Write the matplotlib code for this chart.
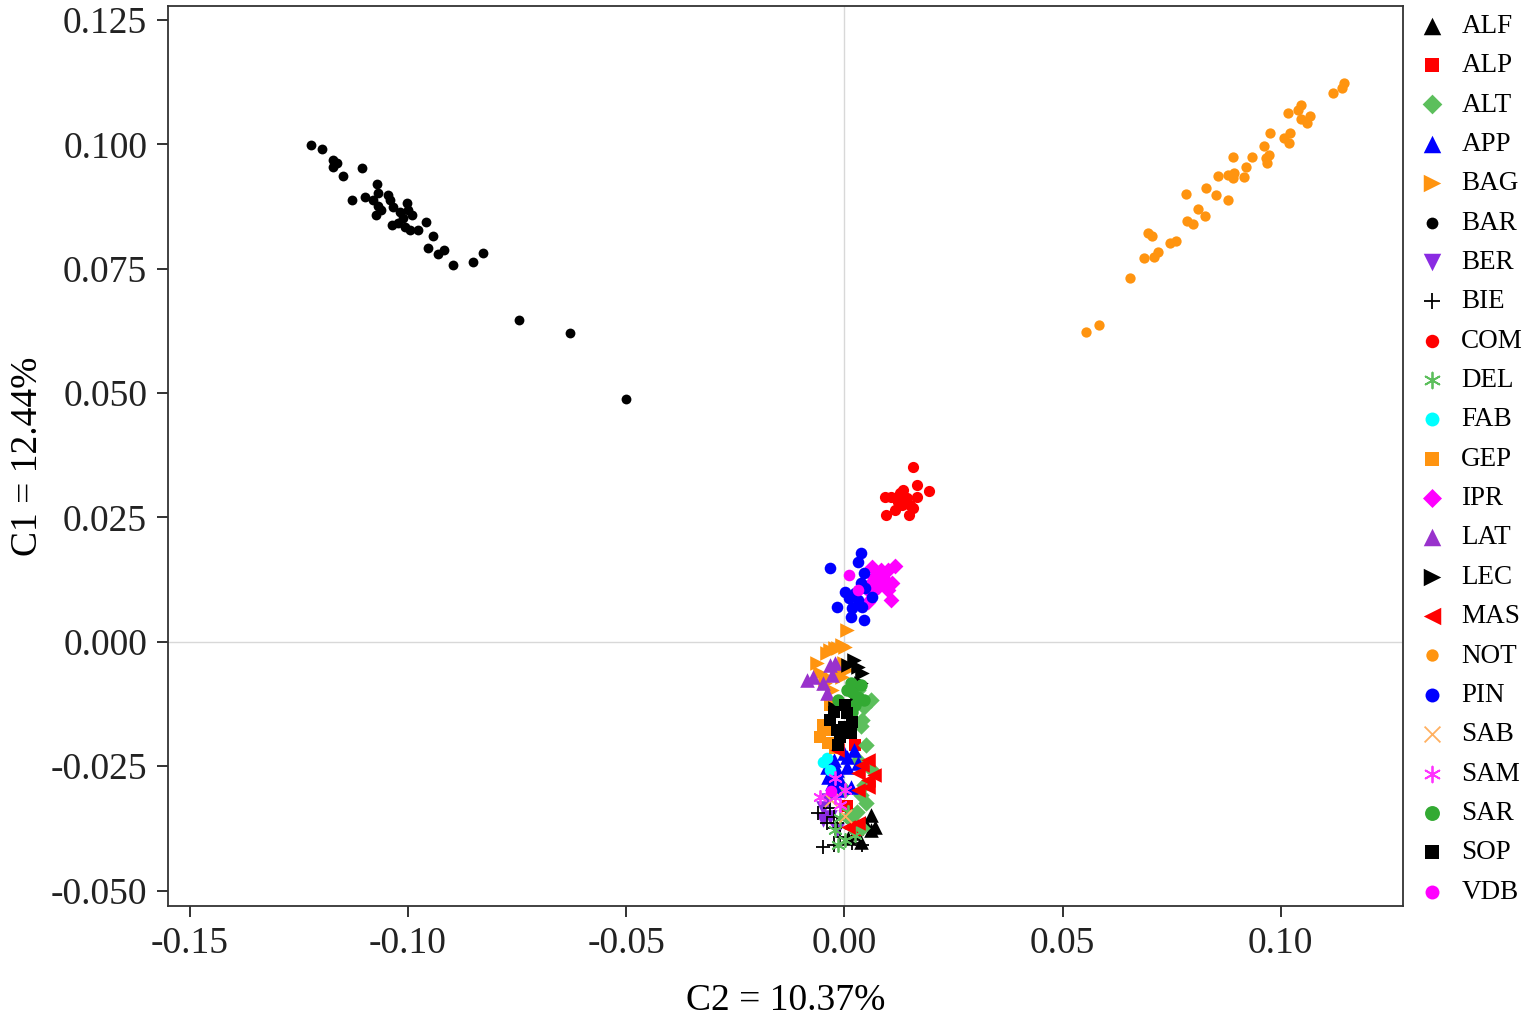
import matplotlib
matplotlib.use("Agg")
import matplotlib.pyplot as plt

plt.rcParams["font.family"] = ["Liberation Serif", "DejaVu Serif"]
plt.rcParams["axes.unicode_minus"] = False

# ---- population coordinates (C2, C1) ----
alf_x = [0.0060, 0.0071, 0.0048, 0.0060, 0.0025, 0.0037, 0.0009]
alf_y = [-0.0348, -0.0372, -0.0364, -0.0378, -0.0384, -0.0402, -0.0394]

alp_x = [0.0025, 0.0014, 0.0030, 0.0005]
alp_y = [-0.0207, -0.0348, -0.0378, -0.0330]

alt_x = [0.0060, 0.0044, 0.0041, 0.0032, 0.0050, 0.0032, 0.0046, 0.0037,
         0.0050, 0.0028, 0.0014, 0.0041, 0.0002, 0.0064, 0.0037]
alt_y = [-0.0117, -0.0131, -0.0157, -0.0096, -0.0207, -0.0237, -0.0287, -0.0307,
         -0.0324, -0.0342, -0.0358, -0.0374, -0.0297, -0.0258, -0.0170]

app_x = [0.0021, -0.0002, -0.0025, -0.0039, -0.0016, 0.0007, 0.0030, -0.0037,
         -0.0009, -0.0016, 0.0014, 0.0007, -0.0028]
app_y = [-0.0217, -0.0223, -0.0237, -0.0251, -0.0257, -0.0251, -0.0243, -0.0271,
         -0.0277, -0.0297, -0.0291, -0.0231, -0.0283]

bag_x = [0.0007, 0.0002, -0.0014, -0.0032, -0.0005, -0.0021, -0.0039, -0.0062,
         -0.0055, -0.0039, -0.0044, -0.0016, -0.0002, -0.0005, 0.0007, -0.0028]
bag_y = [0.0024, -0.0010, -0.0012, -0.0016, -0.0006, -0.0012, -0.0022, -0.0042,
         -0.0062, -0.0070, -0.0082, -0.0060, -0.0042, -0.0070, -0.0056, -0.0096]

bar_x = [-0.1222, -0.1197, -0.1172, -0.1163, -0.1172, -0.1149, -0.1106, -0.1128,
         -0.1099, -0.1071, -0.1069, -0.1080, -0.1069, -0.1073, -0.1062, -0.1046,
         -0.1041, -0.1034, -0.1018, -0.1002, -0.1000, -0.0991, -0.1011, -0.1037,
         -0.1023, -0.1007, -0.0995, -0.0977, -0.0959, -0.0943, -0.0954, -0.0931,
         -0.0917, -0.0897, -0.0851, -0.0828, -0.0745, -0.0628, -0.0500]
bar_y = [0.0999, 0.0991, 0.0969, 0.0963, 0.0955, 0.0936, 0.0953, 0.0888,
         0.0894, 0.0920, 0.0902, 0.0888, 0.0876, 0.0858, 0.0868, 0.0898,
         0.0888, 0.0874, 0.0864, 0.0882, 0.0868, 0.0858, 0.0852, 0.0838,
         0.0842, 0.0834, 0.0828, 0.0828, 0.0844, 0.0816, 0.0792, 0.0780,
         0.0788, 0.0758, 0.0764, 0.0782, 0.0647, 0.0621, 0.0488]

ber_x = [-0.0048, -0.0032, -0.0016, -0.0050, -0.0037]
ber_y = [-0.0334, -0.0352, -0.0378, -0.0358, -0.0318]

bie_x = [-0.0060, -0.0032, -0.0025, -0.0039, -0.0021, -0.0048, -0.0025, -0.0009,
         0.0018, 0.0041, -0.0016]
bie_y = [-0.0344, -0.0334, -0.0352, -0.0364, -0.0374, -0.0412, -0.0408, -0.0392,
         -0.0404, -0.0408, -0.0364]

com_x = [0.0158, 0.0167, 0.0193, 0.0092, 0.0106, 0.0128, 0.0135, 0.0144, 0.0122,
         0.0133, 0.0151, 0.0158, 0.0147, 0.0096, 0.0117, 0.0167, 0.0124]
com_y = [0.0352, 0.0316, 0.0303, 0.0291, 0.0291, 0.0299, 0.0305, 0.0289, 0.0281,
         0.0275, 0.0275, 0.0269, 0.0255, 0.0255, 0.0265, 0.0291, 0.0289]

del_x = [-0.0021, 0.0002, 0.0014, -0.0009, 0.0025, -0.0014, 0.0009]
del_y = [-0.0378, -0.0398, -0.0368, -0.0354, -0.0388, -0.0408, -0.0342]

fab_x = [-0.0050, -0.0041, -0.0032]
fab_y = [-0.0241, -0.0233, -0.0257]

gep_x = [-0.0050, -0.0055, -0.0037, -0.0032, -0.0041, -0.0021]
gep_y = [-0.0167, -0.0191, -0.0203, -0.0127, -0.0177, -0.0213]

ipr_x = [0.0064, 0.0083, 0.0099, 0.0117, 0.0067, 0.0094, 0.0060, 0.0078,
         0.0101, 0.0060, 0.0106, 0.0055, 0.0071, 0.0110]
ipr_y = [0.0151, 0.0145, 0.0145, 0.0153, 0.0131, 0.0125, 0.0119, 0.0111,
         0.0105, 0.0098, 0.0084, 0.0080, 0.0121, 0.0119]

lat_x = [-0.0085, -0.0073, -0.0032, -0.0021, -0.0048, -0.0028, -0.0039]
lat_y = [-0.0076, -0.0070, -0.0046, -0.0042, -0.0082, -0.0066, -0.0102]

lec_x = [0.0021, 0.0032, 0.0041, 0.0037, 0.0021, 0.0009, 0.0028, -0.0021]
lec_y = [-0.0036, -0.0050, -0.0062, -0.0082, -0.0092, -0.0046, -0.0107, -0.0133]

mas_x = [0.0053, 0.0067, 0.0055, 0.0030, -0.0016, 0.0032, 0.0053, 0.0032,
         0.0009, 0.0041]
mas_y = [-0.0237, -0.0267, -0.0291, -0.0263, -0.0217, -0.0297, -0.0277, -0.0364,
         -0.0372, -0.0247]

not_x = [0.0553, 0.0583, 0.0654, 0.0686, 0.0709, 0.0718, 0.0695, 0.0704,
         0.0745, 0.0759, 0.0784, 0.0798, 0.0810, 0.0826, 0.0782, 0.0828,
         0.0851, 0.0878, 0.0856, 0.0878, 0.0890, 0.0892, 0.0915, 0.0920,
         0.0890, 0.0933, 0.0961, 0.0966, 0.0972, 0.0968, 0.0975, 0.1007,
         0.1018, 0.1021, 0.1016, 0.1039, 0.1046, 0.1046, 0.1060, 0.1067,
         0.1119, 0.1140, 0.1144]
not_y = [0.0623, 0.0637, 0.0732, 0.0772, 0.0774, 0.0784, 0.0822, 0.0816,
         0.0802, 0.0806, 0.0846, 0.0840, 0.0870, 0.0856, 0.0900, 0.0912,
         0.0898, 0.0888, 0.0936, 0.0938, 0.0932, 0.0943, 0.0934, 0.0955,
         0.0975, 0.0975, 0.0997, 0.0973, 0.0979, 0.0963, 0.1023, 0.1013,
         0.1003, 0.1023, 0.1063, 0.1069, 0.1079, 0.1051, 0.1043, 0.1057,
         0.1103, 0.1113, 0.1123]

pin_x = [0.0039, 0.0032, -0.0032, 0.0044, 0.0037, 0.0002, 0.0025, 0.0011,
         0.0030, -0.0016, 0.0018, 0.0041, 0.0014, 0.0044, 0.0064, 0.0048]
pin_y = [0.0179, 0.0161, 0.0149, 0.0139, 0.0119, 0.0100, 0.0098, 0.0088,
         0.0084, 0.0070, 0.0068, 0.0070, 0.0050, 0.0044, 0.0090, 0.0109]

sab_x = [0.0002, -0.0030]
sab_y = [-0.0350, -0.0318]

sam_x = [-0.0055, -0.0021, -0.0021, 0.0002, -0.0009]
sam_y = [-0.0311, -0.0311, -0.0273, -0.0297, -0.0328]

sar_x = [0.0005, 0.0018, 0.0032, 0.0014, 0.0037, 0.0025, 0.0046, -0.0014, 0.0018]
sar_y = [-0.0096, -0.0100, -0.0111, -0.0082, -0.0086, -0.0127, -0.0117, -0.0117, -0.0141]

sop_x = [-0.0025, -0.0032, 0.0007, -0.0002, -0.0009, 0.0014, -0.0016, 0.0002,
         0.0018, -0.0014]
sop_y = [-0.0141, -0.0157, -0.0143, -0.0171, -0.0191, -0.0183, -0.0177, -0.0127,
         -0.0161, -0.0207]

vdb_x = [0.0011, 0.0032, 0.0087, -0.0030]
vdb_y = [0.0135, 0.0105, 0.0135, -0.0300]

groups = [
    ("ALF", alf_x, alf_y, "^", "black", 110),
    ("ALP", alp_x, alp_y, "s", "#ff0000", 65),
    ("ALT", alt_x, alt_y, "D", "#5cbf5c", 70),
    ("APP", app_x, app_y, "^", "#0000ff", 110),
    ("BAG", bag_x, bag_y, ">", "#ff9410", 110),
    ("BAR", bar_x, bar_y, "o", "black", 50),
    ("BER", ber_x, ber_y, "v", "#8a2be2", 110),
    ("BIE", bie_x, bie_y, "+", "black", 90),
    ("COM", com_x, com_y, "o", "#ff0000", 65),
    ("DEL", del_x, del_y, (6, 2, 0), "#5cbf5c", 90),
    ("FAB", fab_x, fab_y, "o", "#00ffff", 70),
    ("GEP", gep_x, gep_y, "s", "#ff9410", 70),
    ("IPR", ipr_x, ipr_y, "D", "#ff00ff", 65),
    ("LAT", lat_x, lat_y, "^", "#9932cc", 110),
    ("LEC", lec_x, lec_y, ">", "black", 110),
    ("MAS", mas_x, mas_y, "<", "#ff0000", 110),
    ("NOT", not_x, not_y, "o", "#ff9410", 55),
    ("PIN", pin_x, pin_y, "o", "#0000ff", 70),
    ("SAB", sab_x, sab_y, "x", "#ffb060", 90),
    ("SAM", sam_x, sam_y, (6, 2, 0), "#ff33ff", 90),
    ("SAR", sar_x, sar_y, "o", "#33aa33", 80),
    ("SOP", sop_x, sop_y, "s", "black", 80),
    ("VDB", vdb_x, vdb_y, "o", "#ff00ff", 70),
]


def main():
    fig = plt.figure(figsize=(15.36, 10.17), dpi=100)
    ax = fig.add_axes([0.1094, 0.1091, 0.804, 0.885])

    ax.axhline(0, color="#d8d8d8", lw=1, zorder=0)
    ax.axvline(0, color="#d8d8d8", lw=1, zorder=0)

    for name, xs, ys, mk, col, size in groups:
        lw = 1.3 if mk in ("+", "x") or isinstance(mk, tuple) else 0
        ax.scatter(xs, ys, marker=mk, s=size, c=col, linewidths=lw,
                   label=name, zorder=2)

    ax.set_xlim(-0.155, 0.128)
    ax.set_ylim(-0.0531, 0.1278)
    ax.set_xticks([-0.15, -0.10, -0.05, 0.00, 0.05, 0.10])
    ax.set_xticklabels(["-0.15", "-0.10", "-0.05", "0.00", "0.05", "0.10"])
    ax.set_yticks([-0.050, -0.025, 0.000, 0.025, 0.050, 0.075, 0.100, 0.125])
    ax.set_yticklabels(["-0.050", "-0.025", "0.000", "0.025", "0.050",
                        "0.075", "0.100", "0.125"])
    ax.tick_params(direction="out", length=8, width=1.3, labelsize=27,
                   colors="#222222", pad=7)
    for sp in ax.spines.values():
        sp.set_linewidth(1.3)
        sp.set_color("#333333")

    ax.set_xlabel("C2 = 10.37%", fontsize=27, labelpad=16)
    ax.set_ylabel("C1 = 12.44%", fontsize=27, labelpad=4)

    ax.legend(loc="upper left", bbox_to_anchor=(0.917, 0.993),
              bbox_transform=fig.transFigure, frameon=False, fontsize=19.5,
              labelspacing=0.53, handletextpad=0.5, borderaxespad=0.0,
              handlelength=1.2, markerscale=1.2, borderpad=0.25)

    fig.savefig("out.png", dpi=100)
    plt.close(fig)


if __name__ == "__main__":
    main()
